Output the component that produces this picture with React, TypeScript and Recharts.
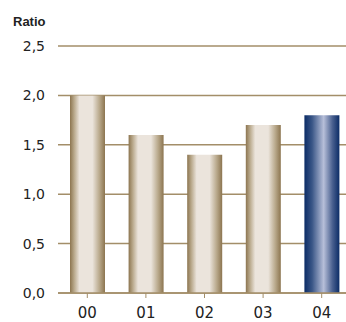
import React from 'react';
import { BarChart, Bar, XAxis, YAxis, CartesianGrid, Cell } from 'recharts';

const years = ['00', '01', '02', '03', '04'];
const ratios = [2.0, 1.6, 1.4, 1.7, 1.8];
const yTicks = [0, 0.5, 1, 1.5, 2, 2.5];

const data = years.map((year, i) => ({ year, ratio: ratios[i] }));

const GOLD = '#a38e69';
const fmt = (v: number) => v.toFixed(1).replace('.', ',');

export default function App() {
    return (
        <div style={{ position: 'absolute', left: 0, top: 0, width: 346, height: 322, overflow: 'hidden', background: '#fff' }}>
            <div style={{ position: 'absolute', left: 13, top: 14, fontFamily: '"Liberation Sans", Arial, sans-serif', fontWeight: 'bold', fontSize: 13, color: '#222' }}>
                Ratio
            </div>
            <BarChart width={351} height={322} data={data} margin={{ top: 46, right: 0, bottom: 0, left: 0 }}>
                <defs>
                    {/* tan cylinder shading */}
                    <linearGradient id="barTan" x1="0" y1="0" x2="1" y2="0">
                        <stop offset="0%" stopColor="#8c7550" />
                        <stop offset="12%" stopColor="#b9a98c" />
                        <stop offset="27%" stopColor="#ebe4dc" />
                        <stop offset="64%" stopColor="#ebe4dc" />
                        <stop offset="84%" stopColor="#b9a98c" />
                        <stop offset="100%" stopColor="#8c7550" />
                    </linearGradient>
                    {/* highlighted year in navy */}
                    <linearGradient id="barBlue" x1="0" y1="0" x2="1" y2="0">
                        <stop offset="0%" stopColor="#0b2c66" />
                        <stop offset="22%" stopColor="#3a5687" />
                        <stop offset="55%" stopColor="#b7bfd9" />
                        <stop offset="80%" stopColor="#4a6190" />
                        <stop offset="100%" stopColor="#0b2c66" />
                    </linearGradient>
                </defs>
                <CartesianGrid vertical={false} stroke={GOLD} strokeWidth={1.5} />
                <XAxis
                    dataKey="year"
                    height={29}
                    axisLine={{ stroke: GOLD, strokeWidth: 1.5 }}
                    tickLine={{ stroke: GOLD }}
                    tickSize={5}
                    tickMargin={9}
                    interval={0}
                    tick={{ fill: '#222', fontSize: 15, fontFamily: '"DejaVu Sans", sans-serif' }}
                />
                <YAxis
                    width={58}
                    domain={[0, 2.5]}
                    ticks={yTicks}
                    tickFormatter={fmt}
                    axisLine={false}
                    tickLine={false}
                    tickMargin={7}
                    tick={{ fill: '#222', fontSize: 14, fontFamily: '"DejaVu Sans", sans-serif' }}
                />
                <Bar dataKey="ratio" barSize={35} isAnimationActive={false}>
                    {data.map((d, i) => (
                        <Cell key={d.year} fill={i === data.length - 1 ? 'url(#barBlue)' : 'url(#barTan)'} />
                    ))}
                </Bar>
            </BarChart>
        </div>
    );
}
